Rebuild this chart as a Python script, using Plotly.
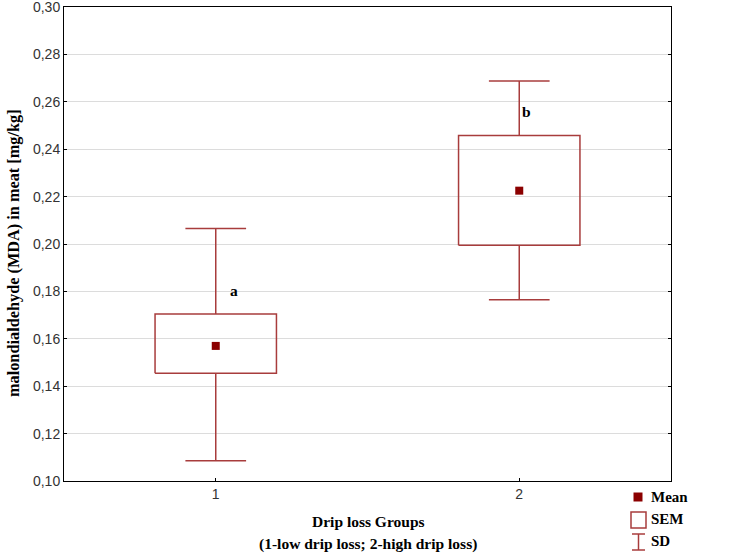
import plotly.graph_objects as go

# ---- data ----
groups = [1, 2]
means = [0.157, 0.2225]
sem_low = [0.1455, 0.1995]
sem_high = [0.1705, 0.2458]
sd_low = [0.1085, 0.1765]
sd_high = [0.2065, 0.2688]
sig_letters = ["a", "b"]
sig_x = [1.06, 2.025]
sig_y = [0.1805, 0.256]
y_tickvals = [0.10, 0.12, 0.14, 0.16, 0.18, 0.20, 0.22, 0.24, 0.26, 0.28, 0.30]
y_ticktext = ["0,10", "0,12", "0,14", "0,16", "0,18", "0,20", "0,22", "0,24", "0,26", "0,28", "0,30"]
x_ticktext = ["1", "2"]

BOX_COL = "#A83C3C"
MEAN_COL = "#8B0000"
BOX_HALF = 0.2
CAP_HALF = 0.1
SERIF = "Liberation Serif, Times New Roman, serif"
SANS = "Liberation Sans, Arial, sans-serif"
TFS = 15.5

fig = go.Figure()

for g, lo, hi, slo, shi in zip(groups, sem_low, sem_high, sd_low, sd_high):
    fig.add_trace(go.Scatter(x=[g, g, None, g - CAP_HALF, g + CAP_HALF],
                             y=[hi, shi, None, shi, shi], mode="lines",
                             line=dict(color=BOX_COL, width=1.5), showlegend=False, hoverinfo="skip"))
    fig.add_trace(go.Scatter(x=[g, g, None, g - CAP_HALF, g + CAP_HALF],
                             y=[lo, slo, None, slo, slo], mode="lines",
                             line=dict(color=BOX_COL, width=1.5), showlegend=False, hoverinfo="skip"))
    fig.add_trace(go.Scatter(x=[g - BOX_HALF, g + BOX_HALF, g + BOX_HALF, g - BOX_HALF, g - BOX_HALF],
                             y=[lo, lo, hi, hi, lo], mode="lines",
                             line=dict(color=BOX_COL, width=1.5), showlegend=False, hoverinfo="skip"))

fig.add_trace(go.Scatter(x=groups, y=means, mode="markers",
                         marker=dict(symbol="square", size=8, color=MEAN_COL),
                         showlegend=False))

for t, xx, yy in zip(sig_letters, sig_x, sig_y):
    fig.add_annotation(x=xx, y=yy, text="<b>%s</b>" % t, showarrow=False,
                       xanchor="center", yanchor="middle",
                       font=dict(family=SERIF, size=TFS, color="black"))

L, R, T, B = 64, 67, 7, 74
W, H = 738, 555
PW, PH = W - L - R, H - T - B


def px(xp):
    return (xp - L) / PW


def py(yp):
    return (H - B - yp) / PH


fig.add_annotation(x=px(13), y=py(253), xref="paper", yref="paper", text="<b>malondialdehyde (MDA) in meat [mg/kg]</b>",
                   textangle=-90, showarrow=False, xanchor="center", yanchor="middle",
                   font=dict(family=SERIF, size=16.3, color="black"))
fig.add_annotation(x=px(368), y=py(521), xref="paper", yref="paper", text="<b>Drip loss Groups</b>",
                   showarrow=False, xanchor="center", yanchor="middle",
                   font=dict(family=SERIF, size=TFS, color="black"))
fig.add_annotation(x=px(368), y=py(544), xref="paper", yref="paper", text="<b>(1-low drip loss; 2-high drip loss)</b>",
                   showarrow=False, xanchor="center", yanchor="middle",
                   font=dict(family=SERIF, size=TFS, color="black"))

shapes = []
shapes.append(dict(type="rect", xref="paper", yref="paper", x0=px(633.5), x1=px(642.5), y0=py(501.5), y1=py(492.5),
                   fillcolor=MEAN_COL, line=dict(width=0)))
shapes.append(dict(type="rect", xref="paper", yref="paper", x0=px(631), x1=px(646), y0=py(528), y1=py(512),
                   fillcolor="white", line=dict(color=BOX_COL, width=1.5)))
for (x0, y0, x1, y1) in [(632, 534, 645, 534), (638.5, 534, 638.5, 550), (632, 550, 645, 550)]:
    shapes.append(dict(type="line", xref="paper", yref="paper", x0=px(x0), x1=px(x1), y0=py(y0), y1=py(y1),
                       line=dict(color=BOX_COL, width=1.5)))
for txt, yy in [("Mean", 497), ("SEM", 519), ("SD", 541)]:
    fig.add_annotation(x=px(649), y=py(yy), xref="paper", yref="paper", text="<b>%s</b>" % txt,
                       xanchor="left", yanchor="middle", showarrow=False,
                       font=dict(family=SERIF, size=15, color="black"))

fig.update_layout(
    width=W, height=H,
    margin=dict(l=L, r=R, t=T, b=B, autoexpand=False),
    paper_bgcolor="white", plot_bgcolor="white",
    shapes=shapes,
    showlegend=False,
)
fig.update_xaxes(range=[0.5, 2.5], tickvals=groups, ticktext=x_ticktext,
                 showline=True, linecolor="black", linewidth=1, mirror=True,
                 ticks="inside", ticklen=3, tickcolor="black", showgrid=False, zeroline=False,
                 ticklabeloverflow="allow", automargin=False,
                 tickfont=dict(family=SANS, size=14, color="#333333"))
fig.update_yaxes(range=[0.10, 0.30], tickvals=y_tickvals, ticktext=y_ticktext,
                 showline=True, linecolor="black", linewidth=1, mirror="ticks",
                 ticks="inside", ticklen=3, tickcolor="black",
                 showgrid=True, gridcolor="#dcdcdc", gridwidth=1, zeroline=False,
                 ticklabeloverflow="allow", automargin=False,
                 tickfont=dict(family=SANS, size=14, color="#333333"))

fig.write_html("out.html", config={"displayModeBar": False},
               post_script="document.body.style.margin='0px';")
